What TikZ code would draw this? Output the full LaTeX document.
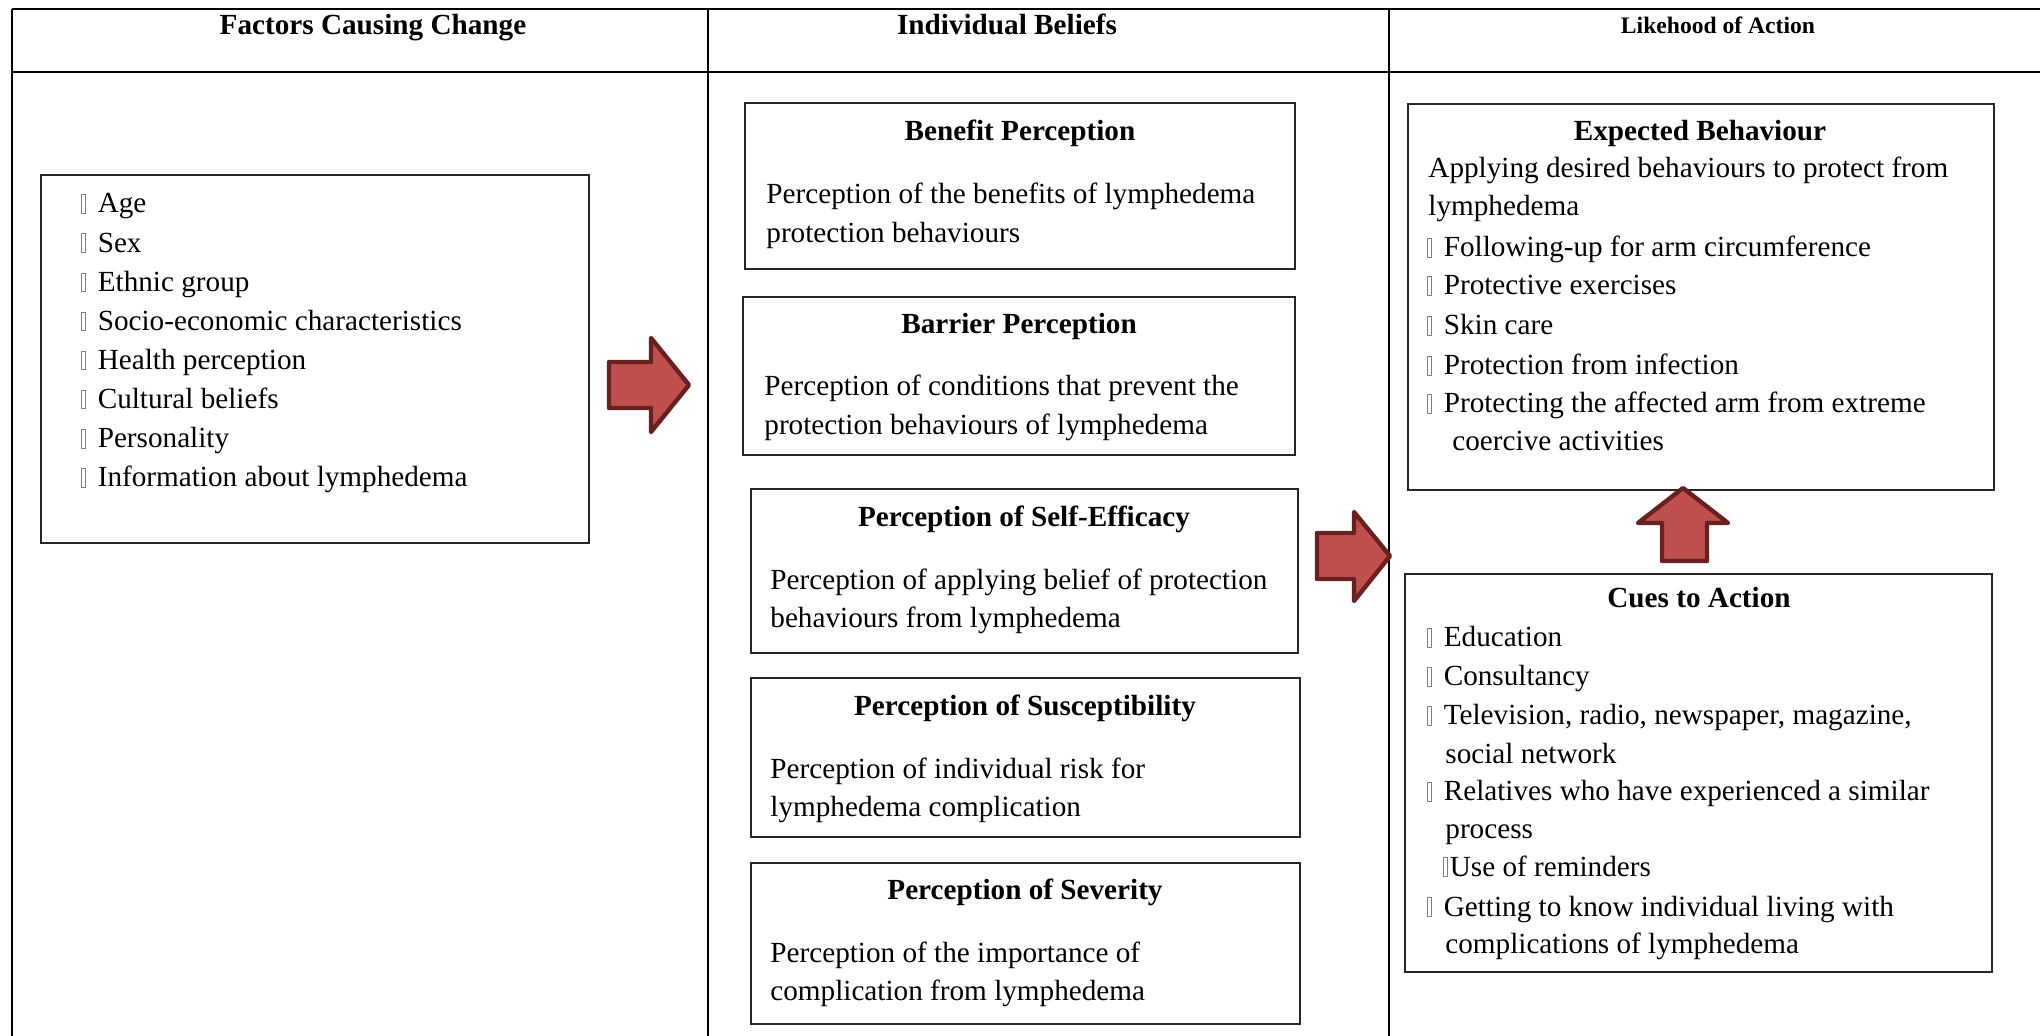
\documentclass[tikz,border=0pt]{standalone}
\usepackage{fontspec}
\setmainfont{Liberation Serif}
\usepackage{xcolor}
\definecolor{arrowfill}{RGB}{192,80,77}
\definecolor{arrowline}{RGB}{105,32,32}
\newcommand{\nobox}{{\color{gray}\fboxsep=0pt\fboxrule=0.3pt\fbox{\rule{0pt}{9pt}\hspace{1.6pt}}}}
\tikzset{
	cell/.style={line width=1pt},
	box/.style={draw=black!85,line width=0.9pt},
	head/.style={font=\fontsize{14.6}{17}\selectfont\bfseries,anchor=base,inner sep=0pt},
	smallhead/.style={font=\fontsize{11.8}{14}\selectfont\bfseries,anchor=base,inner sep=0pt},
	txt/.style={font=\fontsize{14.6}{17}\selectfont,anchor=base west,inner sep=0pt},
	blockarrow/.style={fill=arrowfill,draw=arrowline,line width=2.2pt,line join=round}
}
\begin{document}
\begin{tikzpicture}[x=0.5pt,y=-0.5pt]
			\useasboundingbox (0,0) rectangle (2040,1036);
			
			% table
			\draw[cell] (12,9) -- (2040,9);
			\draw[cell] (12,72) -- (2040,72);
			\draw[cell] (12,9) -- (12,1036);
			\draw[cell] (708,9) -- (708,1036);
			\draw[cell] (1389,9) -- (1389,1036);
			\node[head] (hFactors) at (373,35) {Factors Causing Change};
			\node[head] (hBeliefs) at (1007,35) {Individual Beliefs};
			\node[smallhead] (hAction) at (1718,34) {Likehood of Action};
			
			% factors
			\draw[box] (41,175) rectangle (589,543);
			\foreach \fac [count=\i] in {Age,Sex,Ethnic group,Socio-economic characteristics,Health perception,Cultural beliefs,Personality,Information about lymphedema}
				\node[txt] (factor\i) at (81,{213+39.1*(\i-1)}) {\nobox\hspace{6pt}\fac};
			
			% beliefs
			\draw[box] (745,103) rectangle (1295,269);
			\node[head] (benefit) at (1020,141) {Benefit Perception};
			\node[txt] (benefitA) at (766,204) {Perception of the benefits of lymphedema};
			\node[txt] (benefitB) at (766,243) {protection behaviours};
			
			\draw[box] (743,297) rectangle (1295,455);
			\node[head] (barrier) at (1019,334) {Barrier Perception};
			\node[txt] (barrierA) at (764,396) {Perception of conditions that prevent the};
			\node[txt] (barrierB) at (764,435) {protection behaviours of lymphedema};
			
			\draw[box] (751,489) rectangle (1298,653);
			\node[head] (efficacy) at (1024,527) {Perception of Self-Efficacy};
			\node[txt] (efficacyA) at (770,590) {Perception of applying belief of protection};
			\node[txt] (efficacyB) at (770,628) {behaviours from lymphedema};
			
			\draw[box] (751,678) rectangle (1300,837);
			\node[head] (suscept) at (1025,716) {Perception of Susceptibility};
			\node[txt] (susceptA) at (770,779) {Perception of individual risk for};
			\node[txt] (susceptB) at (770,817) {lymphedema complication};
			
			\draw[box] (751,863) rectangle (1300,1024);
			\node[head] (severity) at (1025,899) {Perception of Severity};
			\node[txt] (severityA) at (770,962) {Perception of the importance of};
			\node[txt] (severityB) at (770,1000) {complication from lymphedema};
			
			% action
			\draw[box] (1408,104) rectangle (1994,490);
			\node[head] (expected) at (1700,141) {Expected Behaviour};
			\node[txt] (expectedA) at (1428,178) {Applying desired behaviours to protect from};
			\node[txt] (expectedB) at (1428,216) {lymphedema};
			\foreach \beh/\yy [count=\i] in {Following-up for arm circumference/257,Protective exercises/295,Skin care/335,Protection from infection/375,Protecting the affected arm from extreme/413}
				\node[txt] (behav\i) at (1427,\yy) {\nobox\hspace{6pt}\beh};
			\node[txt] (behav6) at (1452,451) {coercive activities};
			
			\draw[box] (1405,574) rectangle (1992,972);
			\node[head] (cues) at (1699,608) {Cues to Action};
			\node[txt] (cue1) at (1427,647) {\nobox\hspace{6pt}Education};
			\node[txt] (cue2) at (1427,686) {\nobox\hspace{6pt}Consultancy};
			\node[txt] (cue3) at (1427,725) {\nobox\hspace{6pt}Television, radio, newspaper, magazine,};
			\node[txt] (cue3b) at (1445,763) {social network};
			\node[txt] (cue4) at (1427,801) {\nobox\hspace{6pt}Relatives who have experienced a similar};
			\node[txt] (cue4b) at (1445,838) {process};
			\node[txt] (cue5) at (1443,876) {\nobox\hspace{1pt}Use of reminders};
			\node[txt] (cue6) at (1427,916) {\nobox\hspace{6pt}Getting to know individual living with};
			\node[txt] (cue6b) at (1445,953) {complications of lymphedema};
			
			% block arrows
			\draw[blockarrow] (609,362) -- (651,362) -- (651,338) -- (689,385) -- (651,432) -- (651,408) -- (609,408) -- cycle;
			\draw[blockarrow] (1317,533) -- (1354,533) -- (1354,512) -- (1390,556) -- (1354,601) -- (1354,579) -- (1317,579) -- cycle;
			\draw[blockarrow] (1662,561) -- (1662,523) -- (1638,523) -- (1683,488) -- (1728,523) -- (1707,523) -- (1707,561) -- cycle;
			
		\end{tikzpicture}
\end{document}
